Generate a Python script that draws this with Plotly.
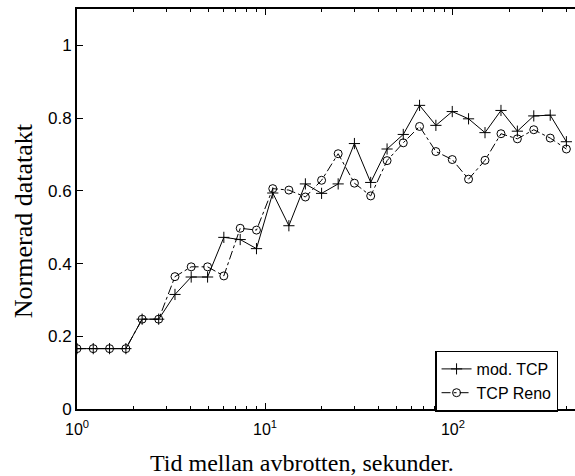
import plotly.graph_objects as go

time_s = [1, 1.22, 1.49, 1.82, 2.22, 2.72, 3.32, 4.05, 4.95, 6.04, 7.38, 9.01,
          11.0, 13.4, 16.4, 20.0, 24.5, 29.9, 36.5, 44.6, 54.4, 66.4, 81.1, 99.1,
          121, 148, 180, 220, 269, 329, 401]
mod_tcp = [0.166, 0.166, 0.166, 0.166, 0.247, 0.247, 0.315, 0.363, 0.363, 0.472,
           0.466, 0.441, 0.594, 0.504, 0.619, 0.593, 0.619, 0.730, 0.623, 0.715,
           0.755, 0.835, 0.780, 0.818, 0.798, 0.760, 0.821, 0.764, 0.806, 0.808, 0.735]
tcp_reno = [0.166, 0.166, 0.166, 0.166, 0.247, 0.247, 0.364, 0.391, 0.391, 0.366,
            0.497, 0.492, 0.606, 0.602, 0.583, 0.629, 0.702, 0.621, 0.586, 0.683,
            0.732, 0.777, 0.708, 0.686, 0.632, 0.684, 0.757, 0.743, 0.768, 0.745, 0.715]

series_names = ["mod. TCP", "TCP Reno"]
x_title = "Tid mellan avbrotten, sekunder."
y_title = "Normerad datatakt"
x_major = [1, 10, 100]
x_major_text = ["10<sup>0</sup>", "10<sup>1</sup>", "10<sup>2</sup>"]
x_minor = [m * d for d in (1, 10, 100) for m in range(2, 10)]
y_ticks = [0, 0.2, 0.4, 0.6, 0.8, 1.0]
y_ticktext = ["0", "0.2", "0.4", "0.6", "0.8", "1"]

serif = "Liberation Serif, Times New Roman, serif"

fig = go.Figure()
fig.add_trace(go.Scatter(
    x=time_s, y=mod_tcp, name=series_names[0], mode="lines+markers",
    line=dict(color="black", width=1),
    marker=dict(symbol="cross-thin-open", size=8, line=dict(color="black", width=1)),
))
fig.add_trace(go.Scatter(
    x=time_s, y=tcp_reno, name=series_names[1], mode="lines+markers",
    line=dict(color="black", width=1, dash="dashdot"),
    marker=dict(symbol="circle-open", size=8, color="black", line=dict(color="black", width=1)),
))

fig.update_layout(
    width=575, height=476,
    margin=dict(l=77, r=0, t=9, b=67),
    paper_bgcolor="white", plot_bgcolor="white",
    font=dict(family="Liberation Sans, Arial, sans-serif", size=14, color="black"),
    showlegend=True,
    legend=dict(
        x=0.719, y=0.07, xanchor="left", yanchor="middle",
        bgcolor="white", bordercolor="black", borderwidth=1.5,
        font=dict(family="Liberation Sans, Arial, sans-serif", size=16),
        tracegroupgap=0, itemwidth=30,
    ),
    annotations=[
        dict(text=x_title, xref="paper", yref="paper", x=0.452, y=-0.135,
             xanchor="center", yanchor="middle", showarrow=False,
             font=dict(family=serif, size=24)),
        dict(text=y_title, xref="paper", yref="paper", x=-0.108, y=0.47,
             xanchor="center", yanchor="middle", showarrow=False, textangle=-90,
             font=dict(family=serif, size=26)),
    ],
)
fig.update_xaxes(
    type="log", range=[0, 2.649],
    tickmode="array", tickvals=x_major, ticktext=x_major_text,
    ticks="inside", ticklen=6, tickwidth=1, tickcolor="black",
    minor=dict(tickvals=x_minor, ticks="inside", ticklen=3, tickcolor="black", tickwidth=1),
    showline=True, linecolor="black", linewidth=2, mirror="ticks",
    showgrid=False, zeroline=False,
    tickfont=dict(size=16), ticklabelstandoff=5,
)
fig.update_yaxes(
    range=[0, 1.1],
    tickmode="array", tickvals=y_ticks, ticktext=y_ticktext,
    ticks="inside", ticklen=6, tickwidth=1, tickcolor="black",
    showline=True, linecolor="black", linewidth=2, mirror=False,
    showgrid=False, zeroline=False,
    tickfont=dict(size=17),
)

fig.write_html("out.html")
